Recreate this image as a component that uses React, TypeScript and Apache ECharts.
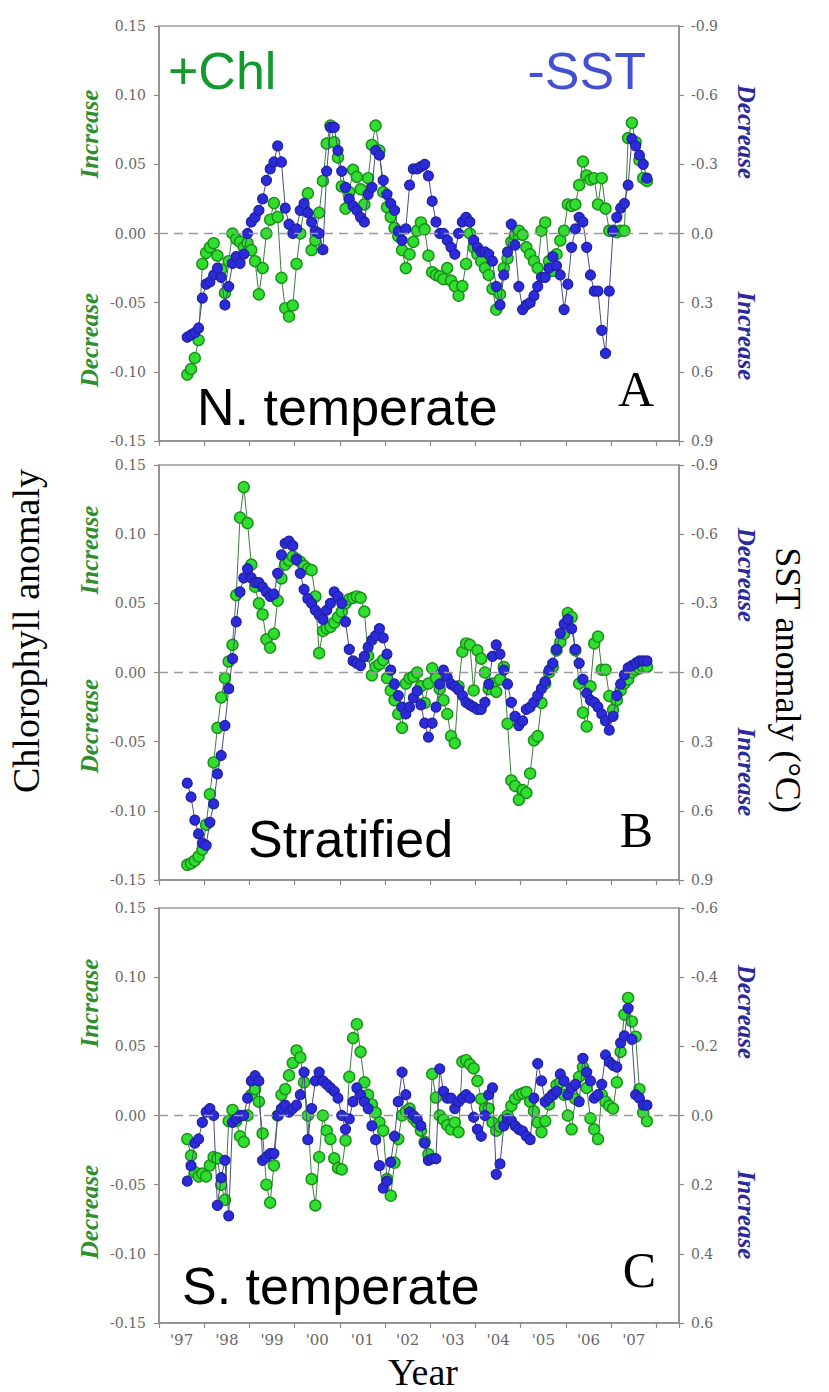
import React, { useEffect, useRef } from "react";
import * as echarts from "echarts";

// ---- data (monthly, starting Aug 1997) ----
const START_YEAR = 1997;
const START_MONTH = 8;

const YEAR_LABELS = ["'97", "'98", "'99", "'00", "'01", "'02", "'03", "'04", "'05", "'06", "'07"];

// Panel A: N. temperate
const chlA = [
  -0.102, -0.098, -0.090, -0.077, -0.022, -0.014, -0.010, -0.007, -0.016, -0.026,
  -0.043, -0.020, 0.000, -0.004, -0.006, -0.010, -0.007, -0.012, -0.020, -0.044,
  -0.025, 0.000, 0.010, 0.022, 0.012, -0.032, -0.054, -0.060, -0.052, -0.022,
  0.000, 0.018, 0.029, -0.012, -0.005, 0.015, 0.038, 0.065, 0.078, 0.066,
  0.055, 0.034, 0.018, 0.030, 0.046, 0.041, 0.032, 0.021, 0.040, 0.064,
  0.078, 0.060, 0.030, 0.019, 0.012, 0.004, -0.002, -0.012, -0.025, -0.015,
  -0.006, 0.002, 0.008, 0.003, -0.016, -0.028, -0.030, -0.031, -0.033, -0.025,
  -0.034, -0.038, -0.045, -0.038, -0.022, 0.000, -0.010, -0.015, -0.020, -0.025,
  -0.030, -0.040, -0.055, -0.044, -0.025, -0.018, -0.006, -0.001, 0.002, -0.001,
  -0.010, -0.015, -0.020, -0.025, 0.002, 0.008, -0.020, -0.027, -0.015, -0.005,
  0.002, 0.021, 0.020, 0.021, 0.035, 0.052, 0.042, 0.039, 0.040, 0.021,
  0.040, 0.018, 0.002, 0.002, 0.001, 0.002, 0.002, 0.069, 0.080, 0.066,
  0.053, 0.040, 0.038,
];
const sstA = [
  0.45, 0.44, 0.43, 0.41, 0.28, 0.22, 0.21, 0.18, 0.15, 0.19,
  0.31, 0.23, 0.13, 0.10, 0.13, 0.09, 0.00, -0.05, -0.07, -0.10,
  -0.15, -0.23, -0.28, -0.31, -0.38, -0.31, -0.11, -0.04, 0.00, -0.02,
  -0.10, -0.13, -0.09, -0.05, -0.01, 0.00, 0.07, -0.27, -0.46, -0.46,
  -0.36, -0.27, -0.20, -0.15, -0.12, -0.10, -0.07, -0.05, -0.17, -0.20,
  -0.36, -0.34, -0.23, -0.17, -0.13, -0.10, -0.01, 0.03, -0.02, -0.21,
  -0.28, -0.28, -0.29, -0.30, -0.25, -0.14, -0.05, 0.00, 0.00, 0.03,
  0.06, 0.09, 0.00, -0.05, -0.07, -0.05, 0.03, 0.06, 0.08, 0.08,
  0.09, 0.12, 0.23, 0.31, 0.18, 0.08, -0.04, 0.05, 0.23, 0.33,
  0.31, 0.30, 0.27, 0.23, 0.19, 0.19, 0.15, 0.10, 0.14, 0.18,
  0.33, 0.22, 0.06, -0.02, -0.07, -0.05, 0.06, 0.18, 0.25, 0.25,
  0.42, 0.52, 0.25, -0.01, -0.07, -0.11, -0.13, -0.21, -0.41, -0.38,
  -0.34, -0.30, -0.24,
];

// Panel B: Stratified
const chlB = [
  -0.139, -0.138, -0.136, -0.133, -0.128, -0.110, -0.088, -0.065, -0.040, -0.018,
  -0.004, 0.008, 0.020, 0.056, 0.112, 0.134, 0.108, 0.078, 0.062, 0.050,
  0.042, 0.024, 0.018, 0.028, 0.052, 0.068, 0.078, 0.081, 0.084, 0.082,
  0.080, 0.077, 0.075, 0.074, 0.055, 0.014, 0.030, 0.032, 0.033, 0.036,
  0.040, 0.044, 0.050, 0.053, 0.054, 0.055, 0.054, 0.044, 0.012, -0.002,
  0.004, 0.006, 0.009, -0.004, -0.013, -0.020, -0.030, -0.040, -0.008, -0.004,
  -0.003, 0.000, -0.010, -0.022, -0.008, 0.003, -0.004, -0.012, -0.020, -0.030,
  -0.046, -0.051, -0.010, 0.015, 0.021, 0.020, -0.013, 0.016, 0.010, 0.000,
  -0.012, -0.008, -0.014, -0.005, 0.004, -0.037, -0.078, -0.082, -0.092, -0.085,
  -0.087, -0.073, -0.049, -0.046, -0.022, -0.008, 0.000, 0.004, 0.016, 0.022,
  0.028, 0.043, 0.040, 0.016, -0.008, -0.029, -0.039, -0.010, 0.021, 0.026,
  0.002, 0.002, -0.017, -0.027, -0.020, -0.013, -0.008, -0.005, 0.000, 0.002,
  0.003, 0.004, 0.004,
];
const sstB = [
  0.48, 0.54, 0.64, 0.70, 0.74, 0.75, 0.65, 0.57, 0.44, 0.36,
  0.23, 0.07, -0.06, -0.22, -0.35, -0.41, -0.45, -0.41, -0.39, -0.39,
  -0.37, -0.35, -0.33, -0.34, -0.43, -0.51, -0.56, -0.57, -0.55, -0.49,
  -0.43, -0.36, -0.32, -0.30, -0.27, -0.25, -0.23, -0.27, -0.30, -0.35,
  -0.33, -0.30, -0.22, -0.10, -0.05, -0.04, -0.03, -0.07, -0.11, -0.14,
  -0.16, -0.19, -0.15, -0.08, -0.01, 0.05, 0.10, 0.15, 0.18, 0.15,
  0.11, 0.08, 0.14, 0.22, 0.28, 0.22, 0.15, 0.05, -0.01, 0.02,
  0.05, 0.06, 0.075, 0.10, 0.13, 0.14, 0.15, 0.16, 0.16, 0.13,
  0.05, -0.07, -0.12, -0.08, -0.01, 0.05, 0.13, 0.19, 0.23, 0.21,
  0.16, 0.15, 0.13, 0.10, 0.07, 0.04, -0.01, -0.04, -0.10, -0.17,
  -0.21, -0.23, -0.19, -0.10, -0.04, 0.03, 0.09, 0.12, 0.13, 0.15,
  0.18, 0.21, 0.25, 0.19, 0.10, 0.05, 0.01, -0.02, -0.03, -0.04,
  -0.05, -0.05, -0.05,
];

// Panel C: S. temperate
const chlC = [
  -0.017, -0.029, -0.041, -0.044, -0.042, -0.044, -0.036, -0.030, -0.031, -0.050,
  -0.061, -0.004, 0.004, -0.004, -0.015, -0.019, 0.000, 0.015, 0.019, 0.010,
  -0.013, -0.050, -0.063, -0.036, 0.000, 0.015, 0.019, 0.029, 0.038, 0.047,
  0.042, 0.024, 0.000, -0.046, -0.065, -0.030, 0.000, -0.011, -0.017, -0.031,
  -0.038, -0.039, -0.018, 0.028, 0.056, 0.066, 0.046, 0.024, 0.015, 0.008,
  0.002, -0.005, -0.011, -0.046, -0.058, -0.034, -0.017, 0.000, 0.003, 0.005,
  -0.002, -0.005, -0.011, -0.019, -0.028, 0.030, 0.013, 0.000, -0.003, -0.007,
  -0.010, -0.005, -0.012, 0.039, 0.040, 0.037, 0.034, 0.025, 0.012, 0.005,
  0.005, -0.005, -0.011, -0.008, -0.003, 0.000, 0.007, 0.012, 0.015, 0.016,
  0.017, 0.010, 0.003, -0.005, -0.012, -0.004, 0.008, 0.015, 0.022, 0.024,
  0.015, 0.000, -0.010, 0.012, 0.028, 0.035, 0.020, -0.002, -0.010, -0.017,
  0.015, 0.010, 0.007, 0.005, 0.024, 0.046, 0.073, 0.085, 0.068, 0.057,
  0.019, 0.002, -0.004,
];
const sstC = [
  0.19, 0.145, 0.08, 0.068, 0.02, -0.01, -0.02, 0.00, 0.26, 0.18,
  0.13, 0.29, 0.02, 0.01, 0.00, 0.00, -0.05, -0.10, -0.115, -0.10,
  0.13, 0.12, 0.11, 0.11, 0.00, -0.02, -0.03, -0.01, -0.02, -0.03,
  -0.06, -0.125, 0.07, -0.02, -0.10, -0.125, -0.10, -0.09, -0.08, -0.07,
  -0.05, 0.00, 0.04, 0.01, -0.04, -0.08, -0.06, -0.04, -0.02, 0.03,
  0.07, 0.145, 0.21, 0.19, 0.135, 0.06, -0.04, -0.125, -0.06, -0.01,
  0.00, 0.01, 0.03, 0.08, 0.13, 0.125, 0.125, -0.135, -0.07, -0.05,
  -0.05, -0.02, -0.04, -0.05, -0.06, -0.05, 0.005, 0.04, 0.06, 0.00,
  -0.06, -0.08, 0.17, 0.14, 0.03, 0.01, 0.015, 0.03, 0.04, 0.045,
  0.06, 0.07, -0.05, -0.15, -0.10, -0.04, -0.05, -0.06, -0.07, -0.12,
  -0.10, -0.06, -0.08, -0.09, -0.04, -0.165, -0.125, -0.10, -0.05, -0.06,
  -0.09, -0.175, -0.155, -0.145, -0.14, -0.21, -0.23, -0.31, -0.22, -0.06,
  -0.05, -0.03, -0.03,
];

const PANELS = [
  { chl: chlA, sst: sstA, sstMax: 0.9, sstStep: 0.3, name: "N. temperate", letter: "A" },
  { chl: chlB, sst: sstB, sstMax: 0.9, sstStep: 0.3, name: "Stratified", letter: "B" },
  { chl: chlC, sst: sstC, sstMax: 0.6, sstStep: 0.2, name: "S. temperate", letter: "C" },
];

// ---- layout ----
const W = 829;
const H = 1392;
const GRID_LEFT = 159;
const GRID_W = 520;
const GRID_H = 415;
const GRID_TOPS = [26, 465, 908];

const SERIF = '"Liberation Serif", "Times New Roman", serif';
const TICK_FONT = '"DejaVu Serif", serif';
const SANS = '"Liberation Sans", Arial, sans-serif';
const AXIS_GRAY = "#8a8a8a";
const TICK_COLOR = "#666";
const GREEN_TXT = "#2f8f2f";
const BLUE_TXT = "#2a2a9c";

function monthTime(i: number): number {
  const m = START_MONTH - 1 + i;
  return START_YEAR + Math.floor(m / 12) + ((m % 12) + 0.5) / 12;
}

function buildOption() {
  const grid: any[] = [];
  const xAxis: any[] = [];
  const yAxis: any[] = [];
  const series: any[] = [];
  const graphic: any[] = [];

  PANELS.forEach((p, k) => {
    const top = GRID_TOPS[k];
    grid.push({
      left: GRID_LEFT,
      top,
      width: GRID_W,
      height: GRID_H,
      show: true,
      borderColor: "#9a9a9a",
      borderWidth: 1.5,
      backgroundColor: "transparent",
    });
    // main x axis (ticks at year boundaries)
    xAxis.push({
      type: "value",
      gridIndex: k,
      position: "bottom",
      min: 1997,
      max: 2008.5,
      interval: 1,
      axisLine: { onZero: false, lineStyle: { color: AXIS_GRAY, width: 1.5 } },
      axisTick: { show: true, length: 5, lineStyle: { color: AXIS_GRAY, width: 1.2 } },
      axisLabel: { show: false },
      splitLine: { show: false },
    });
    // label-only x axis (labels centred within each year)
    xAxis.push({
      type: "value",
      gridIndex: k,
      position: "bottom",
      offset: 0,
      min: 1997,
      max: 2008.5,
      interval: 0.5,
      axisLine: { show: false, onZero: false },
      axisTick: { show: false },
      splitLine: { show: false },
      axisLabel: {
        show: k === 2,
        margin: 9,
        color: TICK_COLOR,
        fontFamily: TICK_FONT,
        fontSize: 15,
        formatter: (v: number) => {
          const y = Math.floor(v);
          if (Math.abs(v - y - 0.5) < 1e-6 && y - 1997 < YEAR_LABELS.length) return YEAR_LABELS[y - 1997];
          return "";
        },
      },
    });
    yAxis.push({
      type: "value",
      gridIndex: k,
      position: "left",
      min: -0.15,
      max: 0.15,
      interval: 0.05,
      axisLine: { show: true, onZero: false, lineStyle: { color: AXIS_GRAY, width: 1.5 } },
      axisTick: { show: true, length: 5, lineStyle: { color: AXIS_GRAY, width: 1.2 } },
      splitLine: { show: false },
      axisLabel: {
        margin: 13,
        color: TICK_COLOR,
        fontFamily: TICK_FONT,
        fontSize: 14,
        formatter: (v: number) => (Math.abs(v) < 1e-9 ? 0 : v).toFixed(2),
      },
    });
    yAxis.push({
      type: "value",
      gridIndex: k,
      position: "right",
      inverse: true,
      min: -p.sstMax,
      max: p.sstMax,
      interval: p.sstStep,
      axisLine: { show: true, onZero: false, lineStyle: { color: AXIS_GRAY, width: 1.5 } },
      axisTick: { show: true, length: 5, lineStyle: { color: AXIS_GRAY, width: 1.2 } },
      splitLine: { show: false },
      axisLabel: {
        margin: 12,
        color: TICK_COLOR,
        fontFamily: TICK_FONT,
        fontSize: 14,
        formatter: (v: number) => (Math.abs(v) < 1e-9 ? 0 : v).toFixed(1),
      },
    });

    series.push({
      type: "line",
      name: "Chl " + p.letter,
      xAxisIndex: 2 * k,
      yAxisIndex: 2 * k,
      data: p.chl.map((v, i) => [monthTime(i), v]),
      symbol: "circle",
      symbolSize: 11,
      z: 3,
      lineStyle: { color: "#3d7d3d", width: 1 },
      itemStyle: { color: "#30de30", borderColor: "#1a9018", borderWidth: 1.4 },
      markLine: {
        silent: true,
        symbol: "none",
        label: { show: false },
        lineStyle: { type: [9, 6], color: "#9a9a9a", width: 1.3 },
        data: [{ yAxis: 0 }],
      },
    });
    series.push({
      type: "line",
      name: "SST " + p.letter,
      xAxisIndex: 2 * k,
      yAxisIndex: 2 * k + 1,
      data: p.sst.map((v, i) => [monthTime(i), v]),
      symbol: "circle",
      symbolSize: 10,
      z: 4,
      lineStyle: { color: "#4a4a86", width: 1 },
      itemStyle: { color: "#2b2bdc", borderColor: "#2020a0", borderWidth: 1.2 },
    });
  });

  const txt = (
    text: string,
    x: number,
    y: number,
    o: { size: number; family: string; fill: string; align?: string; rot?: number; weight?: string; style?: string }
  ) => ({
    type: "text",
    x,
    y,
    rotation: o.rot || 0,
    z: 100,
    style: {
      text,
      fill: o.fill,
      fontSize: o.size,
      fontFamily: o.family,
      fontWeight: o.weight || "normal",
      fontStyle: o.style || "normal",
      align: o.align || "left",
      verticalAlign: "middle",
      textAlign: o.align || "left",
      textVerticalAlign: "middle",
    },
  });

  // big annotations
  graphic.push(txt("+Chl", 168, 71, { size: 52, family: SANS, fill: "#129a2c" }));
  graphic.push(txt("-SST", 646, 71, { size: 52, family: SANS, fill: "#4350d2", align: "right" }));
  graphic.push(txt("N. temperate", 197, 407, { size: 52, family: SANS, fill: "#000" }));
  graphic.push(txt("Stratified", 248, 839, { size: 52, family: SANS, fill: "#000" }));
  graphic.push(txt("S. temperate", 182, 1286, { size: 52, family: SANS, fill: "#000" }));
  graphic.push(txt("A", 654, 389, { size: 50, family: SERIF, fill: "#000", align: "right" }));
  graphic.push(txt("B", 653, 830, { size: 50, family: SERIF, fill: "#000", align: "right" }));
  graphic.push(txt("C", 656, 1270, { size: 50, family: SERIF, fill: "#000", align: "right" }));

  // side italic labels
  const leftInc = [134, 550, 1003];
  const leftDec = [340, 726, 1212];
  const rightDec = [132, 575, 1012];
  const rightInc = [336, 772, 1215];
  for (let k = 0; k < 3; k++) {
    const common = { size: 25, family: SERIF, weight: "bold", style: "italic", align: "center" };
    graphic.push(txt("Increase", 89, leftInc[k], { ...common, fill: GREEN_TXT, rot: Math.PI / 2 }));
    graphic.push(txt("Decrease", 89, leftDec[k], { ...common, fill: GREEN_TXT, rot: Math.PI / 2 }));
    graphic.push(txt("Decrease", 746, rightDec[k], { ...common, fill: BLUE_TXT, rot: -Math.PI / 2 }));
    graphic.push(txt("Increase", 746, rightInc[k], { ...common, fill: BLUE_TXT, rot: -Math.PI / 2 }));
  }

  // axis titles
  graphic.push(txt("Chlorophyll anomaly", 26, 631, { size: 38, family: SERIF, fill: "#000", align: "center", rot: Math.PI / 2 }));
  graphic.push(txt("SST anomaly (\u00B0C)", 788, 680, { size: 36, family: SERIF, fill: "#000", align: "center", rot: -Math.PI / 2 }));
  graphic.push(txt("Year", 423, 1372, { size: 38, family: SERIF, fill: "#000", align: "center" }));

  return {
    animation: false,
    backgroundColor: "#ffffff",
    grid,
    xAxis,
    yAxis,
    series,
    graphic,
  };
}

export default function App() {
  const ref = useRef<HTMLDivElement | null>(null);
  useEffect(() => {
    if (!ref.current) return;
    const chart = echarts.init(ref.current, null, { renderer: "svg", width: W, height: H });
    chart.setOption(buildOption() as any);
    return () => chart.dispose();
  }, []);
  return (
    <div
      ref={ref}
      style={{ position: "absolute", left: 0, top: 0, width: W, height: H, background: "#fff" }}
    />
  );
}
